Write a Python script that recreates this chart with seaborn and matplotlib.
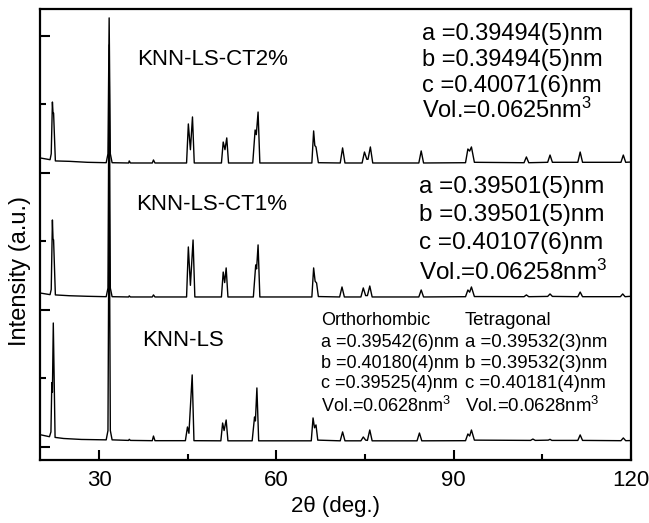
import matplotlib
matplotlib.use("Agg")
import matplotlib.pyplot as plt
import numpy as np
import pandas as pd
import seaborn as sns
from matplotlib.ticker import MultipleLocator

# XRD patterns: (2theta in deg, counts above each trace's own zero)
knn_ls = [(20.0, 90), (21.6, 75), (21.85, 110), (22.0, 470), (22.1, 400), (22.25, 905), (22.55, 70),
          (24.0, 62), (27.0, 55), (31.2, 52), (31.5, 120), (31.7, 2000), (31.9, 120), (32.2, 52),
          (35.0, 48), (35.1, 56), (35.3, 48), (39.0, 46), (39.2, 80), (39.45, 46),
          (44.6, 46), (44.95, 146), (45.2, 100), (45.75, 526), (46.05, 46),
          (50.6, 45), (50.9, 175), (51.15, 120), (51.5, 197), (51.8, 45),
          (55.9, 45), (56.3, 219), (56.45, 190), (56.7, 431), (57.0, 45),
          (65.9, 45), (66.2, 212), (66.45, 140), (66.7, 161), (67.0, 50),
          (70.8, 45), (71.2, 110), (71.6, 45), (74.3, 45), (74.7, 73), (75.1, 50), (75.4, 48),
          (75.8, 124), (76.2, 45), (83.8, 45), (84.2, 102), (84.6, 45),
          (92.0, 46), (92.4, 95), (92.7, 80), (93.0, 124), (93.5, 50),
          (103.0, 48), (103.4, 58), (103.8, 48), (106.0, 50), (106.3, 56), (106.6, 48),
          (111.0, 48), (111.4, 88), (111.8, 48), (118.3, 46), (118.7, 66), (119.1, 46), (120.0, 47)]

knn_ls_ct1 = [(20.0, 124), (21.7, 112), (21.9, 150), (22.1, 657), (22.2, 520), (22.3, 511), (22.6, 110),
              (25.0, 104), (28.0, 100), (31.2, 97), (31.5, 160), (31.7, 1935), (31.9, 160), (32.2, 97),
              (35.0, 95), (35.1, 103), (35.3, 95), (39.0, 95), (39.2, 110), (39.45, 95),
              (44.8, 95), (45.1, 460), (45.45, 180), (45.9, 511), (46.2, 95),
              (50.7, 95), (51.0, 277), (51.25, 200), (51.5, 307), (51.8, 95),
              (56.1, 95), (56.5, 329), (56.65, 300), (56.9, 475), (57.2, 95),
              (66.0, 95), (66.3, 307), (66.55, 210), (66.8, 197), (67.1, 98),
              (70.7, 95), (71.1, 168), (71.5, 95), (74.3, 95), (74.7, 161), (75.1, 105), (75.4, 105),
              (75.8, 175), (76.2, 95), (84.1, 95), (84.5, 146), (84.9, 95),
              (92.0, 97), (92.4, 146), (92.7, 130), (93.0, 168), (93.5, 98),
              (101.9, 97), (102.3, 110), (102.7, 97), (105.9, 99), (106.3, 117), (106.7, 99),
              (111.0, 97), (111.4, 131), (111.8, 97), (118.2, 97), (118.6, 117), (119.0, 97), (120.0, 100)]

knn_ls_ct2 = [(20.0, 110), (21.7, 97), (21.9, 140), (22.1, 518), (22.2, 440), (22.3, 438), (22.6, 88),
              (25.0, 85), (28.0, 78), (31.2, 75), (31.5, 140), (31.7, 1132), (31.9, 140), (32.2, 75),
              (35.0, 73), (35.1, 88), (35.3, 73), (39.0, 73), (39.2, 95), (39.45, 73),
              (44.8, 73), (45.1, 358), (45.45, 170), (45.8, 409), (46.1, 73),
              (50.7, 73), (51.0, 226), (51.3, 170), (51.6, 256), (51.9, 73),
              (56.0, 73), (56.4, 314), (56.6, 280), (56.9, 445), (57.2, 73),
              (66.0, 73), (66.3, 307), (66.5, 200), (66.7, 190), (67.1, 75),
              (70.8, 73), (71.2, 183), (71.6, 73), (74.5, 73), (74.9, 153), (75.3, 100), (75.5, 100),
              (75.9, 190), (76.3, 73), (84.1, 73), (84.5, 161), (84.9, 73),
              (92.0, 75), (92.4, 175), (92.7, 160), (93.0, 190), (93.5, 78),
              (101.9, 75), (102.3, 117), (102.7, 75), (105.9, 78), (106.3, 131), (106.7, 78),
              (111.0, 78), (111.4, 153), (111.8, 78), (118.3, 78), (118.7, 131), (119.1, 78), (120.0, 80)]

samples = ["KNN-LS", "KNN-LS-CT1%", "KNN-LS-CT2%"]
patterns = [knn_ls, knn_ls_ct1, knn_ls_ct2]
offsets = [0, 1000, 2000]

ct2_params = ["a =0.39494(5)nm", "b =0.39494(5)nm", "c =0.40071(6)nm", "Vol.=0.0625nm$^3$"]
ct1_params = ["a =0.39501(5)nm", "b =0.39501(5)nm", "c =0.40107(6)nm", "Vol.=0.06258nm$^3$"]
ortho_params = ["Orthorhombic", "a =0.39542(6)nm", "b =0.40180(4)nm", "c =0.39525(4)nm",
                "Vol.=0.0628nm$^3$"]
tetra_params = ["Tetragonal", "a =0.39532(3)nm", "b =0.39532(3)nm", "c =0.40181(4)nm",
                "Vol.=0.0628nm$^3$"]

rows = []
for name, pts, off in zip(samples, patterns, offsets):
    for tt, cnt in pts:
        rows.append({"sample": name, "two_theta": tt, "intensity": cnt + off})
df = pd.DataFrame(rows)

sns.set_style("ticks")
plt.rcParams["font.family"] = ["Liberation Sans", "DejaVu Sans"]
plt.rcParams["mathtext.fontset"] = "custom"
plt.rcParams["mathtext.rm"] = "Liberation Sans"
plt.rcParams["mathtext.it"] = "Liberation Sans:italic"
plt.rcParams["text.color"] = "black"
plt.rcParams["axes.labelcolor"] = "black"
plt.rcParams["xtick.color"] = "black"
plt.rcParams["ytick.color"] = "black"

fig = plt.figure(figsize=(6.49, 5.23), dpi=100)
ax = fig.add_axes([40 / 649, 63 / 523, 591 / 649, 451 / 523])

sns.lineplot(data=df, x="two_theta", y="intensity", units="sample", estimator=None,
             sort=False, color="black", lw=1.0, ax=ax)

ax.set_xlim(20, 120)
ax.set_ylim(-95, 3197)
ax.xaxis.set_major_locator(MultipleLocator(30))
ax.xaxis.set_minor_locator(MultipleLocator(15))
ax.yaxis.set_major_locator(MultipleLocator(1000))
ax.yaxis.set_minor_locator(MultipleLocator(500))
ax.set_yticklabels([])
ax.tick_params(which="both", direction="in", width=1.5, colors="black", top=False, right=False)
ax.tick_params(which="major", length=7)
ax.tick_params(which="minor", length=4.5)
ax.tick_params(axis="x", labelsize=16, pad=7)
for s in ax.spines.values():
    s.set_linewidth(1.6)
    s.set_color("black")

ax.set_xlabel("2θ (deg.)", fontsize=16, labelpad=4)
ax.set_ylabel("Intensity (a.u.)", fontsize=17)
ax.yaxis.set_label_coords(-0.015, 0.42)
ax.yaxis.label.set_va("bottom")

# sample names
ax.text(36.4, 2825, samples[2], fontsize=16, va="center")
ax.text(36.3, 1770, samples[1], fontsize=16, va="center")
ax.text(37.3, 774, samples[0], fontsize=16, va="center")

for txt, yb in zip(ct2_params, [2971, 2781, 2591, 2401]):
    ax.text(84.7, yb, txt, fontsize=17, va="baseline")
for txt, yb in zip(ct1_params, [1854, 1650, 1445, 1219]):
    ax.text(84.2, yb, txt, fontsize=17.5, va="baseline")
for txt, yb in zip(ortho_params, [891, 730, 577, 431, 255]):
    ax.text(67.5, yb, txt, fontsize=13, va="baseline")
for txt, yb in zip(tetra_params, [891, 730, 577, 431, 255]):
    ax.text(91.9, yb, txt, fontsize=13.4, va="baseline")

fig.savefig("out.png", dpi=100)
